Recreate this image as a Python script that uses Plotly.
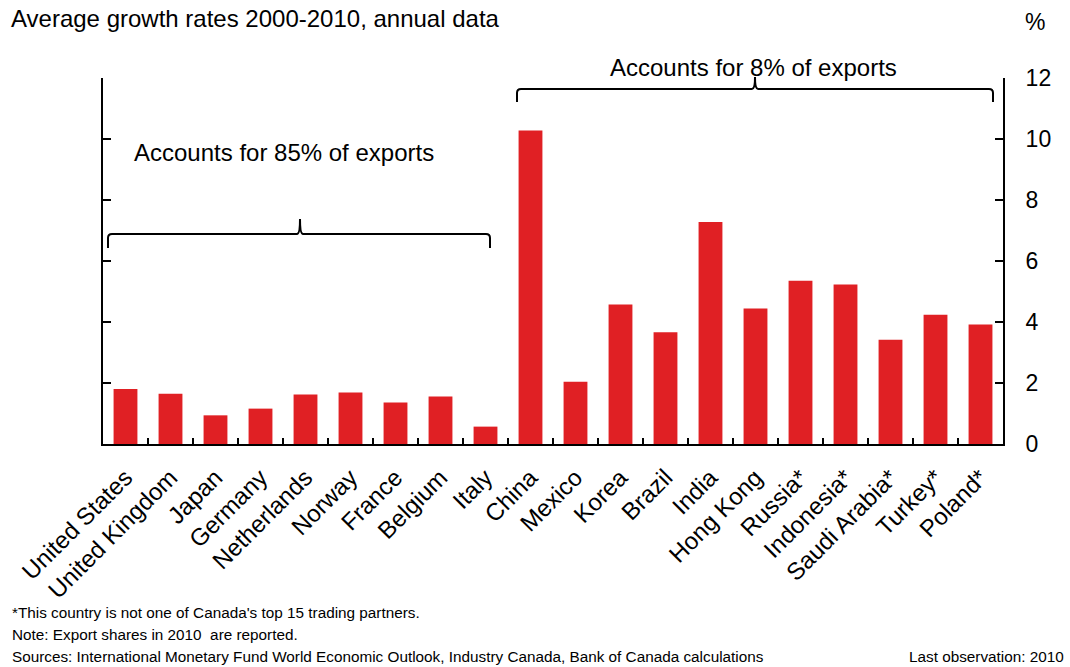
import plotly.graph_objects as go

countries = ["United States", "United Kingdom", "Japan", "Germany", "Netherlands",
             "Norway", "France", "Belgium", "Italy", "China", "Mexico", "Korea",
             "Brazil", "India", "Hong Kong", "Russia*", "Indonesia*", "Saudi Arabia*",
             "Turkey*", "Poland*"]
growth = [1.80, 1.65, 0.94, 1.16, 1.62, 1.69, 1.36, 1.56, 0.57, 10.28, 2.04, 4.57,
          3.66, 7.28, 4.44, 5.35, 5.23, 3.42, 4.24, 3.92]
y_ticks = [0, 2, 4, 6, 8, 10, 12]

title_text = "Average growth rates 2000-2010, annual data"
left_group = "Accounts for 85% of exports"
right_group = "Accounts for 8% of exports"
footnotes = ["*This country is not one of Canada's top 15 trading partners.",
             "Note: Export shares in 2010  are reported.",
             "Sources: International Monetary Fund World Economic Outlook, Industry Canada, Bank of Canada calculations"]
last_obs = "Last observation: 2010"

W, H = 1070, 667
L, R, T, B = 103, 1003, 78, 444

FONT = "Liberation Sans, Arial, sans-serif"
NARROW = "Liberation Sans Narrow, Arial Narrow, Liberation Sans, sans-serif"

fig = go.Figure(go.Bar(x=countries, y=growth, marker=dict(color="#E02024", line=dict(width=0)),
                       hoverinfo="x+y"))

def px(x):
    return (x - L) / (R - L)

def py(y):
    return (B - y) / (B - T)

def brace(x0, x1, xm, yl, yend, ypk):
    pts = [
        f"M {px(x0)} {py(yend)}",
        f"L {px(x0)} {py(yl+4)}",
        f"Q {px(x0)} {py(yl)} {px(x0+4)} {py(yl)}",
        f"L {px(xm-3)} {py(yl)}",
        f"Q {px(xm)} {py(yl)} {px(xm)} {py(ypk)}",
        f"Q {px(xm)} {py(yl)} {px(xm+3)} {py(yl)}",
        f"L {px(x1-4)} {py(yl)}",
        f"Q {px(x1)} {py(yl)} {px(x1)} {py(yl+4)}",
        f"L {px(x1)} {py(yend)}",
    ]
    return " ".join(pts)

fig.add_shape(type="path", xref="paper", yref="paper",
              path=brace(108, 490, 300, 234, 248, 219), line=dict(color="black", width=2))
fig.add_shape(type="path", xref="paper", yref="paper",
              path=brace(517, 993, 755, 89, 102, 77), line=dict(color="black", width=2))

def text(t, x, y, size=20, family=FONT, xanchor="left"):
    return dict(text=t, x=px(x), y=py(y), xref="paper", yref="paper", showarrow=False,
                font=dict(size=size, family=family, color="black"),
                xanchor=xanchor, yanchor="middle")

annotations = [
    text(left_group, 284, 152, size=24, xanchor="center"),
    text(right_group, 753.5, 67, size=24, xanchor="center"),
    text(title_text, 9, 19, size=24),
    text("%", 1047, 22, size=23, xanchor="right"),
]
for i, t in enumerate(footnotes):
    annotations.append(text(t, 10, 612 + 22 * i, size=15.3, family=NARROW))
annotations.append(text(last_obs, 1066, 656, size=15.3, family=NARROW, xanchor="right"))

fig.update_layout(
    width=W, height=H,
    margin=dict(l=L, r=W - R, t=T, b=H - B, pad=0),
    plot_bgcolor="white", paper_bgcolor="white",
    bargap=0.47, showlegend=False,
    font=dict(family=FONT, color="black"),
    annotations=annotations,
    xaxis=dict(type="category", showline=True, linecolor="black", linewidth=2,
               ticks="inside", tickson="boundaries", ticklen=6, tickwidth=2, tickcolor="black",
               tickangle=-45, tickfont=dict(size=24, family=FONT, color="black"),
               ticklabelstandoff=8,
               showgrid=False, zeroline=False, fixedrange=True),
    yaxis=dict(side="right", range=[0, 12], tickvals=y_ticks, showline=True, linecolor="black",
               linewidth=2, ticks="inside", ticklen=8, tickwidth=2, tickcolor="black",
               mirror="ticks", tickfont=dict(size=23, family=FONT, color="black"),
               ticklabelstandoff=16, showgrid=False, zeroline=False, fixedrange=True),
)

fig.write_html("out.html")
